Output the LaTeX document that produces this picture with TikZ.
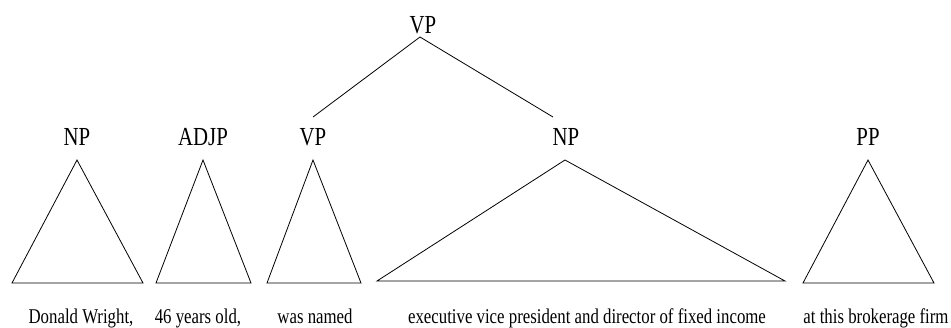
\documentclass[tikz,border=0pt]{standalone}
\usepackage{fontspec}
\setmainfont[FakeStretch=0.8]{Liberation Serif}
\begin{document}
\begin{tikzpicture}[x=1pt,y=-1pt,
  cat/.style={font=\fontsize{26}{28}\selectfont, anchor=base, inner sep=0pt},
  word/.style={font=\fontsize{21}{24}\selectfont, anchor=base, inner sep=0pt},
  tri/.style={draw=black, line width=0.8pt, line join=miter},
  edge/.style={draw=black, line width=0.8pt}]
\useasboundingbox (0,0) rectangle (951,327);

% root
\node[cat] (vp0) at (423,33) {VP};
\coordinate (vp0b) at (420,37);

% phrase labels
\node[cat] (np1) at (77,145) {NP};
\node[cat] (adjp) at (203,145) {ADJP};
\node[cat] (vp1) at (313,145) {VP};
\node[cat] (np2) at (566,145) {NP};
\node[cat] (pp) at (868,145) {PP};

% branches from the root
\coordinate (vp1t) at (313,117);
\coordinate (np2t) at (553,117);
\draw[edge] (vp0b) -- (vp1t);
\draw[edge] (vp0b) -- (np2t);

% collapsed subtrees
\draw[tri] (77,160) -- (143,283) -- (12,283) -- cycle;
\draw[tri] (203,160) -- (251,283) -- (156,283) -- cycle;
\draw[tri] (313,160) -- (361,283) -- (267,283) -- cycle;
\draw[tri] (565,160) -- (785,281) -- (377,281) -- cycle;
\draw[tri] (868,160) -- (934,283) -- (803,283) -- cycle;

% yields
\node[word] (w1) at (81,323) {Donald Wright,};
\node[word] (w2) at (198,323) {46 years old,};
\node[word] (w3) at (315,323) {was named};
\node[word] (w4) at (587,323) {executive vice president and director of fixed income};
\node[word] (w5) at (876,323) {at this brokerage firm};
\end{tikzpicture}
\end{document}
